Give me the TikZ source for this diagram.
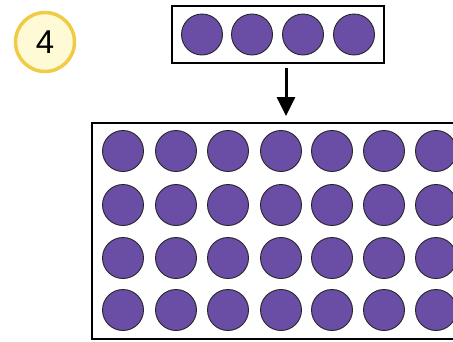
\documentclass[tikz,border=0pt]{standalone}
\usepackage{fontspec}
\setsansfont{Liberation Sans}
\usetikzlibrary{arrows.meta}
\definecolor{dotpurple}{HTML}{6A4EA6}
\definecolor{ringyellow}{HTML}{F0CB45}
\definecolor{paleyellow}{HTML}{FFFAD6}
\begin{document}
\begin{tikzpicture}[x=1pt,y=-1pt,
  dot/.style={circle,fill=dotpurple,draw=black!85,line width=0.9pt,minimum size=41pt,inner sep=0pt},
  framebox/.style={draw=black,line width=2pt,fill=none}]
\useasboundingbox (0,0) rectangle (453,341);
\clip (0,0) rectangle (453,341);
% number badge
\node[circle,fill=paleyellow,draw=ringyellow,line width=3.5pt,minimum size=59pt,inner sep=0pt,
  font=\sffamily\fontsize{33}{33}\selectfont] (num) at (45,42) {4};
% top box
\draw[framebox] (172,6) rectangle (384,63);
\coordinate (topbot) at (286,68);
\coordinate (arrowend) at (286,116);
\foreach \i/\x in {1/202,2/252,3/303,4/354}
  \node[dot] (t\i) at (\x,34.5) {};
% arrow
\draw[line width=3pt,-{Triangle[length=19pt,width=18pt]}] (topbot) -- (arrowend);
% big box
\draw[framebox] (92,123) rectangle (470,339);
\foreach \r/\y in {1/151,2/205,3/258,4/310}
  \foreach \c/\x in {1/123,2/176,3/228,4/281,5/332,6/384,7/436}
    \node[dot] (b\r\c) at (\x,\y) {};
\end{tikzpicture}
\end{document}
